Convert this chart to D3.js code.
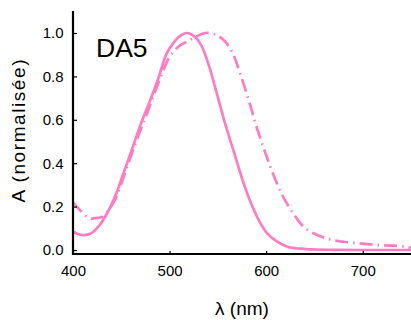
<!DOCTYPE html>
<html><head><meta charset="utf-8">
<script src="https://cdn.jsdelivr.net/npm/d3@7"></script>
<style>body{margin:0;background:#fff}svg{display:block}text{font-family:Arial,"Liberation Sans",sans-serif}</style>
</head><body><svg id="c" width="411" height="320"></svg>
<script>
const xTicks = [400, 500, 600, 700];
const yTicks = [0.0, 0.2, 0.4, 0.6, 0.8, 1.0];
const solidX = [400, 405, 410, 416, 421, 430, 442, 452, 462, 471, 480, 489, 497, 505, 512, 518, 524, 532, 540, 549, 557, 566, 575, 583, 592, 601, 611, 622, 635, 646, 670, 700, 750];
const solidY = [0.084, 0.074, 0.069, 0.072, 0.084, 0.13, 0.23, 0.35, 0.476, 0.59, 0.69, 0.80, 0.906, 0.96, 0.99, 1.0, 0.99, 0.95, 0.86, 0.72, 0.59, 0.46, 0.33, 0.23, 0.14, 0.077, 0.04, 0.015, 0.006, 0.003, 0.001, 0.0, 0.0];
const dashX = [400, 408, 417, 425, 431, 438, 445, 455, 466, 475, 483, 492, 500, 510, 518, 528, 537, 546, 556, 565, 573, 582, 590, 599, 607, 617, 628, 638, 649, 665, 680, 698, 715, 730, 745, 750];
const dashY = [0.22, 0.18, 0.146, 0.148, 0.154, 0.19, 0.246, 0.37, 0.507, 0.61, 0.706, 0.81, 0.89, 0.94, 0.96, 0.985, 1.0, 0.995, 0.968, 0.91, 0.814, 0.69, 0.568, 0.45, 0.353, 0.25, 0.169, 0.11, 0.077, 0.05, 0.038, 0.03, 0.023, 0.02, 0.015, 0.01];

const svg = d3.select("#c");
const x = d3.scaleLinear().domain([400, 750]).range([73, 411]);
const y = d3.scaleLinear().domain([0, 1]).range([250, 33]);
const col = "#ff7cc0";

const line = d3.line().x(d => x(d[0])).y(d => y(d[1])).curve(d3.curveCatmullRom.alpha(0.5));
svg.append("clipPath").attr("id","pc").append("rect").attr("x",73).attr("y",10).attr("width",338).attr("height",244);
const g = svg.append("g").attr("clip-path","url(#pc)");
g.append("path").datum(dashX.map((v,i)=>[v,dashY[i]])).attr("d",line)
  .attr("fill","none").attr("stroke",col).attr("stroke-width",2.7).attr("stroke-dasharray","13,5,1.5,5");
g.append("path").datum(solidX.map((v,i)=>[v,solidY[i]])).attr("d",line)
  .attr("fill","none").attr("stroke",col).attr("stroke-width",2.7);

// axes
const xAxis = svg.append("g").attr("transform","translate(0,254)")
  .call(d3.axisBottom(x).tickValues(xTicks).tickSize(-3).tickPadding(11).tickFormat(d3.format("d")));
const yAxis = svg.append("g").attr("transform","translate(73,0)")
  .call(d3.axisLeft(y).tickValues(yTicks).tickSize(-4).tickPadding(9.5).tickFormat(d3.format(".1f")));
[xAxis,yAxis].forEach(a=>{
  a.select(".domain").remove();
  a.selectAll(".tick line").attr("stroke","#000").attr("stroke-width",1.2);
  a.selectAll(".tick text").attr("font-size",15).attr("fill","#000").attr("font-family","Arial, 'Liberation Sans', sans-serif");
});
svg.append("line").attr("x1",73).attr("x2",73).attr("y1",11).attr("y2",255).attr("stroke","#000").attr("stroke-width",2.2);
svg.append("line").attr("x1",72).attr("x2",411).attr("y1",254).attr("y2",254).attr("stroke","#000").attr("stroke-width",2.2);

svg.append("text").attr("x",242).attr("y",315).attr("text-anchor","middle").attr("font-size",19).text("λ (nm)");
svg.append("text").attr("transform","translate(25,131) rotate(-90)").attr("text-anchor","middle").attr("font-size",19)
  .attr("textLength",143).attr("lengthAdjust","spacing").text("A (normalisée)");
svg.append("text").attr("x",96).attr("y",57).attr("font-size",26.5).text("DA5");
</script></body></html>
